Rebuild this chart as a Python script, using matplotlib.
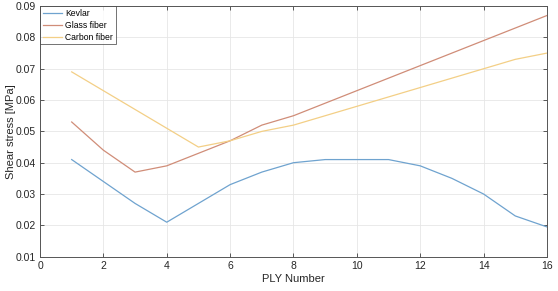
import matplotlib
matplotlib.use("Agg")
import matplotlib.pyplot as plt

# 数据
ply = [1, 2, 3, 4, 5, 6, 7, 8, 9, 10, 11, 12, 13, 14, 15, 16]
kevlar = [0.041, 0.034, 0.027, 0.021, 0.027, 0.033, 0.037, 0.040,
          0.041, 0.041, 0.041, 0.039, 0.035, 0.030, 0.023, 0.0195]
glass = [0.053, 0.044, 0.037, 0.039, 0.043, 0.047, 0.052, 0.055,
         0.059, 0.063, 0.067, 0.071, 0.075, 0.079, 0.083, 0.087]
carbon = [0.069, 0.063, 0.057, 0.051, 0.045, 0.047, 0.050, 0.052,
          0.055, 0.058, 0.061, 0.064, 0.067, 0.070, 0.073, 0.075]

plt.rcParams['font.family'] = ['Liberation Sans', 'DejaVu Sans']

fig = plt.figure(figsize=(5.58, 2.91), dpi=100)
ax = fig.add_axes([0.0717, 0.118, 0.9085, 0.861])

ax.plot(ply, kevlar, color='#6fa3cf', lw=0.9, label='Kevlar')
ax.plot(ply, glass, color='#d08d78', lw=0.9, label='Glass fiber')
ax.plot(ply, carbon, color='#f3cf86', lw=0.9, label='Carbon fiber')

ax.set_xlim(0, 16)
ax.set_ylim(0.01, 0.09)
ax.set_xticks(range(0, 17, 2))
ax.set_yticks([0.01, 0.02, 0.03, 0.04, 0.05, 0.06, 0.07, 0.08, 0.09])
ax.set_yticklabels(['0.01', '0.02', '0.03', '0.04', '0.05', '0.06', '0.07', '0.08', '0.09'])

# MATLAB 风格
ax.grid(True, color='#e6e6e6', lw=0.6)
ax.set_axisbelow(True)
ax.tick_params(direction='in', top=True, right=True, length=3, width=0.6,
               labelsize=7.5, colors='#404040', labelcolor='#262626', pad=3)
for s in ax.spines.values():
    s.set_color('#555555')
    s.set_linewidth(0.7)

ax.set_xlabel('PLY Number', fontsize=8, color='#262626', labelpad=2)
ax.set_ylabel('Shear stress [MPa]', fontsize=8, color='#262626')
ax.yaxis.set_label_coords(-0.048, 0.5)

leg = ax.legend(loc='upper left', fontsize=6.2, frameon=True, fancybox=False,
                borderaxespad=0, handlelength=2.3, handletextpad=0.35,
                borderpad=0.3, labelspacing=0.35)
leg.get_frame().set_edgecolor('#333333')
leg.get_frame().set_linewidth(0.6)

fig.savefig('out.png', dpi=100)
